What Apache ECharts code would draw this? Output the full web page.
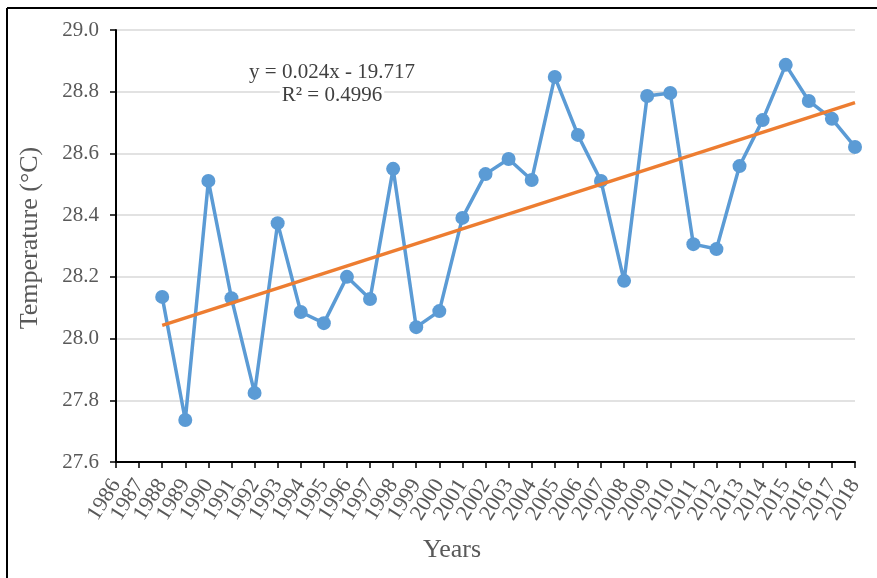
<!DOCTYPE html>
<html>
<head>
<meta charset="utf-8">
<script src="https://cdn.jsdelivr.net/npm/echarts@6/dist/echarts.min.js"></script>
<style>html,body{margin:0;padding:0;background:#fff;}#c{width:877px;height:578px;}</style>
</head>
<body>
<div id="c"></div>
<script>
const axisYears = ["1986","1987","1988","1989","1990","1991","1992","1993","1994","1995","1996","1997","1998","1999","2000","2001","2002","2003","2004","2005","2006","2007","2008","2009","2010","2011","2012","2013","2014","2015","2016","2017","2018"];
const years = [1988,1989,1990,1991,1992,1993,1994,1995,1996,1997,1998,1999,2000,2001,2002,2003,2004,2005,2006,2007,2008,2009,2010,2011,2012,2013,2014,2015,2016,2017,2018];
const temps = [28.135,27.736,28.511,28.131,27.824,28.374,28.086,28.050,28.200,28.128,28.550,28.037,28.089,28.391,28.533,28.582,28.514,28.848,28.660,28.511,28.187,28.786,28.796,28.306,28.290,28.559,28.708,28.887,28.770,28.712,28.621];
const equationText = ["y = 0.024x - 19.717", "R² = 0.4996"];
const xTitle = "Years";
const yTitle = "Temperature (°C)";

// least-squares trend line (as Excel's linear trendline)
const n = years.length;
const mx = years.reduce((a,b)=>a+b,0)/n;
const my = temps.reduce((a,b)=>a+b,0)/n;
let sxy=0, sxx=0;
for (let i=0;i<n;i++){ sxy += (years[i]-mx)*(temps[i]-my); sxx += (years[i]-mx)*(years[i]-mx); }
const slope = sxy/sxx, icpt = my - slope*mx;
const trend = [[String(years[0]), icpt+slope*years[0]], [String(years[n-1]), icpt+slope*years[n-1]]];

const chart = echarts.init(document.getElementById('c'));
const font = '"Liberation Serif", "Times New Roman", serif';
chart.setOption({
  animation: false,
  backgroundColor: '#fff',
  grid: {left: 116, right: 22, top: 30, bottom: 116},
  xAxis: {
    type: 'category', data: axisYears, boundaryGap: false,
    axisLine: {show: true, onZero: false, lineStyle: {color: '#000', width: 2}},
    axisTick: {show: true, length: 6, interval: 0, lineStyle: {color: '#000', width: 1.5}},
    axisLabel: {rotate: 58, interval: 0, fontFamily: font, fontSize: 22, color: '#595959', margin: 19},
    splitLine: {show: false}
  },
  yAxis: {
    type: 'value', min: 27.6, max: 29.0, interval: 0.2,
    axisLine: {show: true, lineStyle: {color: '#000', width: 2}},
    axisTick: {show: true, length: 6, lineStyle: {color: '#000', width: 1.5}},
    axisLabel: {fontFamily: font, fontSize: 21, color: '#595959', margin: 17, formatter: v => v.toFixed(1)},
    splitLine: {show: true, lineStyle: {color: '#d9d9d9', width: 1.5}}
  },
  graphic: [
    {type: 'line', shape: {x1: 7, y1: 8, x2: 7, y2: 578}, style: {stroke: '#000', lineWidth: 2}},
    {type: 'line', shape: {x1: 7, y1: 8, x2: 877, y2: 8}, style: {stroke: '#000', lineWidth: 2}},
    {type: 'text', x: 30, y: 238, rotation: Math.PI/2, z: 10,
     style: {text: yTitle, fontFamily: font, fontSize: 26, fill: '#595959', align: 'center', verticalAlign: 'middle'}},
    {type: 'text', x: 452, y: 550, z: 10,
     style: {text: xTitle, fontFamily: font, fontSize: 26, fill: '#595959', align: 'center', verticalAlign: 'middle'}},
    {type: 'text', x: 332, y: 72, z: 10,
     style: {text: equationText[0], fontFamily: font, fontSize: 21, fill: '#404040', align: 'center', verticalAlign: 'middle'}},
    {type: 'text', x: 332, y: 95, z: 10,
     style: {text: equationText[1], fontFamily: font, fontSize: 21, fill: '#404040', align: 'center', verticalAlign: 'middle',
             backgroundColor: '#fff', padding: [0, 2]}}
  ],
  series: [
    {type: 'line', data: years.map((y,i)=>[String(y),temps[i]]), symbol: 'circle', symbolSize: 14,
     lineStyle: {color: '#5b9bd5', width: 3.5}, itemStyle: {color: '#5b9bd5'}, z: 3},
    {type: 'line', data: trend, symbol: 'none', lineStyle: {color: '#ed7d31', width: 3.5}, z: 4}
  ]
});
</script>
</body>
</html>
